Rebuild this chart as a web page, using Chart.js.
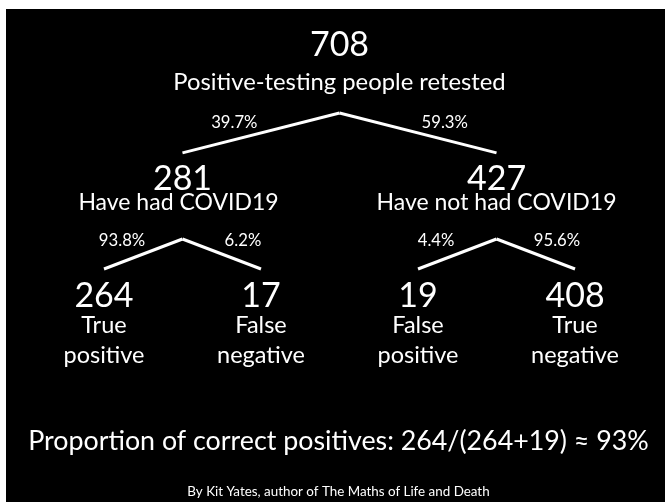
<!DOCTYPE html>
<html>
<head>
<meta charset="utf-8">
<script src="https://cdn.jsdelivr.net/npm/chart.js@4.4.0/dist/chart.umd.min.js"></script>
<style>
  html, body { margin: 0; padding: 0; background: #fff; }
  #wrap { position: absolute; left: 6px; top: 9px; width: 659px; height: 493px; background: #000; }
</style>
</head>
<body>
<div id="wrap"><canvas id="tree"></canvas></div>
<script>
const rootCount = 708;
const rootLabel = 'Positive-testing people retested';
const groupCounts = [281, 427];
const groupLabels = ['Have had COVID19', 'Have not had COVID19'];
const groupPcts = ['39.7%', '59.3%'];
const leafCounts = [264, 17, 19, 408];
const leafLabels = [['True', 'positive'], ['False', 'negative'], ['False', 'positive'], ['True', 'negative']];
const leafPcts = ['93.8%', '6.2%', '4.4%', '95.6%'];
const summaryText = 'Proportion of correct positives: 264/(264+19) \u2248 93%';
const creditText = 'By Kit Yates, author of The Maths of Life and Death';

// tree layout: leaves sit on slots 0..3, parents at the middle of their children
const leafX = leafCounts.map((v, i) => i);
const groupX = groupCounts.map((v, g) => (leafX[2 * g] + leafX[2 * g + 1]) / 2);
const rootX = (groupX[0] + groupX[1]) / 2;
const branchDrop = [0.317, 0.238];   // how far each branch falls below its parent (level units)
const pctAlong = [0.33, 0.23];       // where the % label sits, measured back from the child

const FONT = 'Lato, "Open Sans", sans-serif';
const white = '#ffffff';

// one dataset per branch
const datasets = [];
groupX.forEach(gx => {
  datasets.push({ data: [{ x: rootX, y: 0 }, { x: gx, y: branchDrop[0] }] });
});
leafX.forEach((lx, i) => {
  const gx = groupX[Math.floor(i / 2)];
  datasets.push({ data: [{ x: gx, y: 1 }, { x: lx, y: 1 + branchDrop[1] }] });
});
datasets.forEach(ds => {
  ds.borderColor = white;
  ds.borderWidth = 3;
  ds.pointRadius = 0;
  ds.tension = 0;
  ds.fill = false;
});

const treeText = {
  id: 'treeText',
  afterDatasetsDraw(chart) {
    const ctx = chart.ctx;
    const xs = chart.scales.x, ys = chart.scales.y;
    const px = v => xs.getPixelForValue(v);
    const py = v => ys.getPixelForValue(v);
    ctx.save();
    ctx.fillStyle = white;
    ctx.textAlign = 'center';
    ctx.textBaseline = 'alphabetic';
    const put = (txt, x, y, size) => {
      ctx.font = size + 'px ' + FONT;
      ctx.fillText(txt, x, y);
    };

    // root
    put(String(rootCount), px(rootX), py(0) - 57, 34);
    put(rootLabel, px(rootX), py(0) - 23, 23.8);

    // first split
    groupX.forEach((gx, g) => {
      const lx = gx + (rootX - gx) * pctAlong[0];
      put(groupPcts[g], px(lx), py(0) + 15, 16.7);
      put(String(groupCounts[g]), px(gx), py(1) - 49, 34);
      put(groupLabels[g], px(gx) - (g === 0 ? 4 : 0), py(1) - 29, 23);
    });

    // second split
    leafX.forEach((lx, i) => {
      const gx = groupX[Math.floor(i / 2)];
      const tx = lx + (gx - lx) * pctAlong[1];
      put(leafPcts[i], px(tx), py(1) + 7, 16.7);
      put(String(leafCounts[i]), px(lx), py(2) - 58, 34);
      put(leafLabels[i][0], px(lx), py(2) - 32, 23.5);
      put(leafLabels[i][1], px(lx), py(2) - 2, 23.5);
    });

    // footer
    const cx = (chart.chartArea.left + chart.chartArea.right) / 2 + 3;
    put(summaryText, cx, py(2) + 85, 26.8);
    put(creditText, cx, py(2) + 131, 13.4);
    ctx.restore();
  }
};

const ctx = document.getElementById('tree').getContext('2d');
const treeChart = new Chart(ctx, {
  type: 'line',
  data: { datasets: datasets },
  options: {
    responsive: true,
    maintainAspectRatio: false,
    animation: false,
    layout: { padding: 0 },
    plugins: { legend: { display: false }, tooltip: { enabled: false } },
    scales: {
      x: { type: 'linear', display: false, min: -0.624, max: 3.573 },
      y: { type: 'linear', display: false, min: -0.825, max: 3.087, reverse: true }
    }
  },
  plugins: [treeText]
});
</script>
</body>
</html>
